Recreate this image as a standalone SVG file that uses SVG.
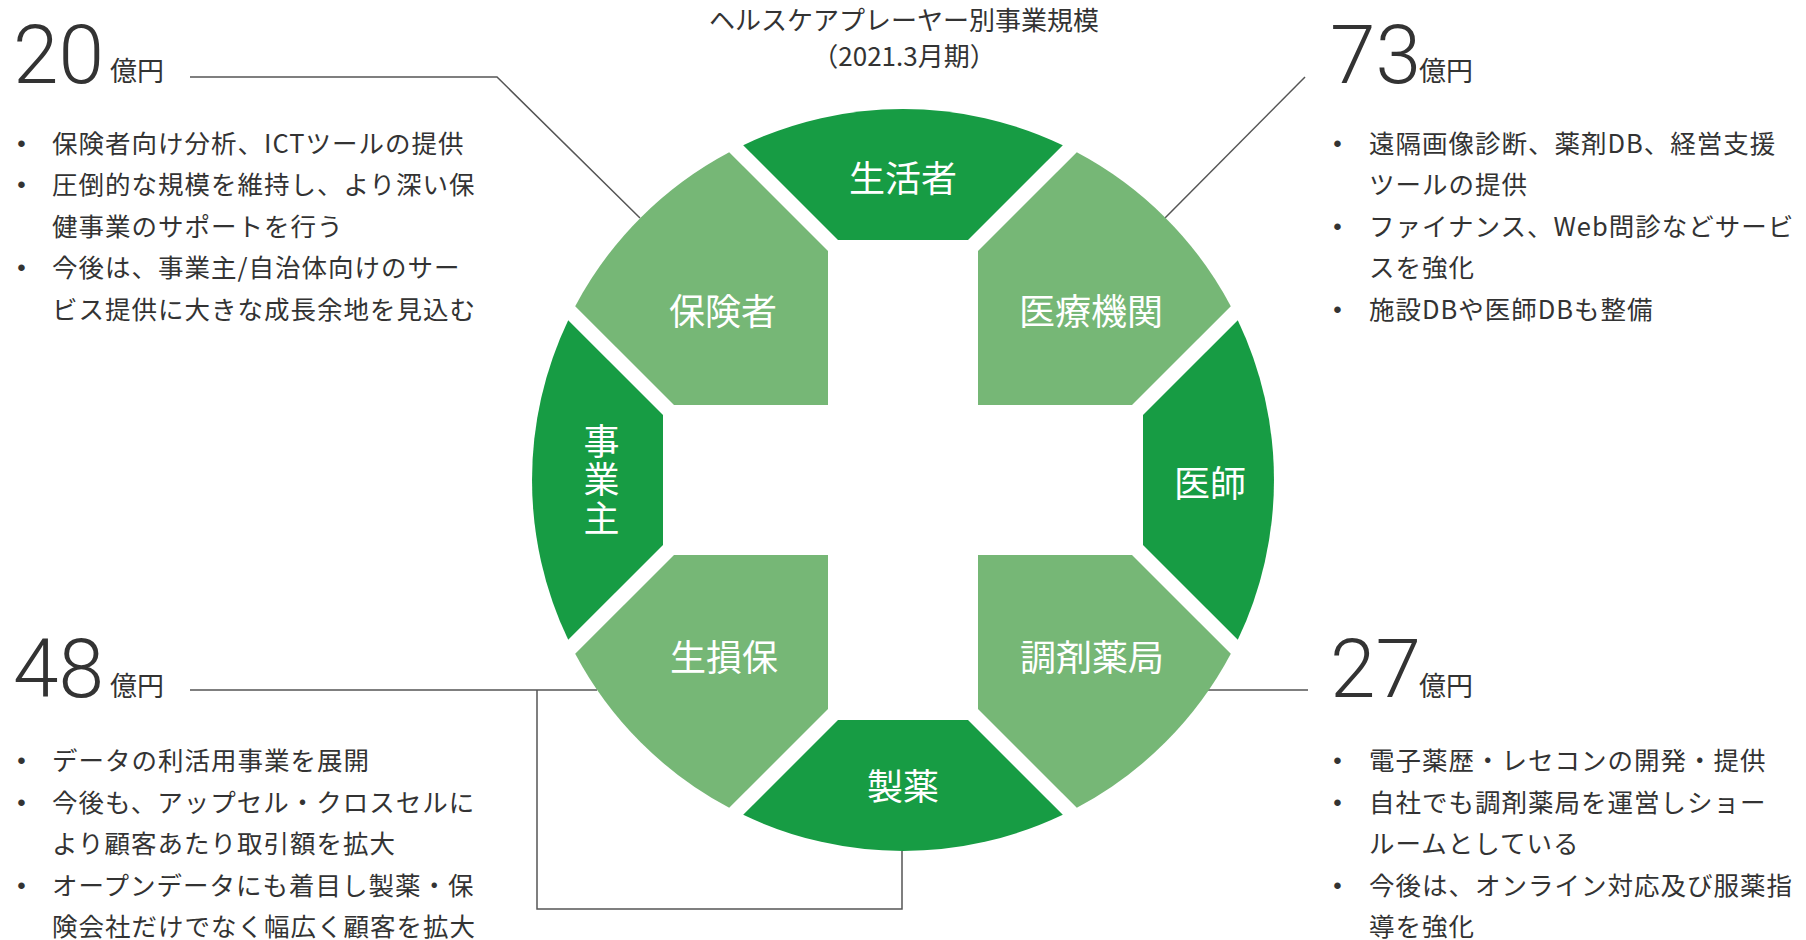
<svg xmlns="http://www.w3.org/2000/svg" width="1806" height="940" viewBox="0 0 1806 940">
<style>
.dark{fill:#179C44}
.light{fill:#76B776}
.lbl{font-family:"Noto Sans CJK JP","Noto Sans",sans-serif;font-size:36px;fill:#ffffff;text-anchor:middle}
.vert{writing-mode:vertical-rl;letter-spacing:2.5px}
.title{font-family:"Noto Sans CJK JP","Noto Sans",sans-serif;font-size:26px;fill:#333333;text-anchor:middle}
.body{font-family:"Noto Sans CJK JP","Noto Sans",sans-serif;font-size:25.5px;letter-spacing:1px;fill:#333333}
.bul{font-family:"Liberation Sans",sans-serif;font-size:24px;fill:#333333;text-anchor:middle}
.num{font-family:Roboto,"Noto Sans",sans-serif;font-weight:300;font-size:82px;fill:#333333}
.unit{font-family:"Noto Sans CJK JP","Noto Sans",sans-serif;font-size:27px;fill:#333333}
.conn{fill:none;stroke:#555555;stroke-width:1.5}
</style>
<rect width="1806" height="940" fill="#ffffff"/>

<g id="title">
<text class="title" x="904" y="30">ヘルスケアプレーヤー別事業規模</text>
<text class="title" x="904" y="66">（2021.3月期）</text>
</g>

<g id="connectors">
<polyline class="conn" points="190,77 497,77 640,218"/>
<polyline class="conn" points="1305,77 1165,218"/>
<polyline class="conn" points="1207,690 1308,690"/>
<polyline class="conn" points="190,690 597,690"/>
<polyline class="conn" points="537,690 537,909 902,909 902,851"/>
</g>

<g id="node-seikatsusha">
<path class="dark" d="M838,240 L743.2,145.2 A371,371 0 0 1 1062.8,145.2 L968,240 Z"/>
<text class="lbl" x="903" y="192">生活者</text>
</g>
<g id="node-seiyaku">
<path class="dark" d="M838,720 L743.2,814.8 A371,371 0 0 0 1062.8,814.8 L968,720 Z"/>
<text class="lbl" x="903" y="800">製薬</text>
</g>
<g id="node-jigyonushi">
<path class="dark" d="M663,415 L568.2,320.2 A371,371 0 0 0 568.2,639.8 L663,545 Z"/>
<text class="lbl vert" x="601.5" y="481">事業主</text>
</g>
<g id="node-ishi">
<path class="dark" d="M1143,415 L1237.8,320.2 A371,371 0 0 1 1237.8,639.8 L1143,545 Z"/>
<text class="lbl" x="1210" y="497">医師</text>
</g>
<g id="node-hokensha">
<path class="light" d="M828,251 L828,405 L674,405 L575.2,306.2 A371,371 0 0 1 729.2,152.2 Z"/>
<text class="lbl" x="723" y="325">保険者</text>
</g>
<g id="node-iryokikan">
<path class="light" d="M978,251 L978,405 L1132,405 L1230.8,306.2 A371,371 0 0 0 1076.8,152.2 Z"/>
<text class="lbl" x="1091" y="325">医療機関</text>
</g>
<g id="node-sonpo">
<path class="light" d="M828,709 L828,555 L674,555 L575.2,653.8 A371,371 0 0 0 729.2,807.8 Z"/>
<text class="lbl" x="724" y="671">生損保</text>
</g>
<g id="node-chozai">
<path class="light" d="M978,709 L978,555 L1132,555 L1230.8,653.8 A371,371 0 0 1 1076.8,807.8 Z"/>
<text class="lbl" x="1092" y="671">調剤薬局</text>
</g>

<g id="block-hokensha">
<text class="num" x="13" y="83">20</text>
<text class="unit" x="110" y="81">億円</text>
<text class="bul" x="21.5" y="152">•</text>
<text class="body" x="52" y="153">保険者向け分析、ICTツールの提供</text>
<text class="bul" x="21.5" y="193">•</text>
<text class="body" x="52" y="194">圧倒的な規模を維持し、より深い保</text>
<text class="body" x="52" y="236">健事業のサポートを行う</text>
<text class="bul" x="21.5" y="276">•</text>
<text class="body" x="52" y="277">今後は、事業主/自治体向けのサー</text>
<text class="body" x="52" y="319">ビス提供に大きな成長余地を見込む</text>
</g>

<g id="block-iryokikan">
<text class="num" x="1330" y="83">73</text>
<text class="unit" x="1419" y="81">億円</text>
<text class="bul" x="1337.5" y="152">•</text>
<text class="body" x="1369" y="153">遠隔画像診断、薬剤DB、経営支援</text>
<text class="body" x="1369" y="194">ツールの提供</text>
<text class="bul" x="1337.5" y="235">•</text>
<text class="body" x="1369" y="236">ファイナンス、Web問診などサービ</text>
<text class="body" x="1369" y="277">スを強化</text>
<text class="bul" x="1337.5" y="318">•</text>
<text class="body" x="1369" y="319">施設DBや医師DBも整備</text>
</g>

<g id="block-sonpo">
<text class="num" x="13" y="697">48</text>
<text class="unit" x="110" y="696">億円</text>
<text class="bul" x="21.5" y="769">•</text>
<text class="body" x="52" y="770">データの利活用事業を展開</text>
<text class="bul" x="21.5" y="811">•</text>
<text class="body" x="52" y="812">今後も、アップセル・クロスセルに</text>
<text class="body" x="52" y="853">より顧客あたり取引額を拡大</text>
<text class="bul" x="21.5" y="894">•</text>
<text class="body" x="52" y="895">オープンデータにも着目し製薬・保</text>
<text class="body" x="52" y="936">険会社だけでなく幅広く顧客を拡大</text>
</g>

<g id="block-chozai">
<text class="num" x="1330" y="697">27</text>
<text class="unit" x="1419" y="696">億円</text>
<text class="bul" x="1337.5" y="769">•</text>
<text class="body" x="1369" y="770">電子薬歴・レセコンの開発・提供</text>
<text class="bul" x="1337.5" y="811">•</text>
<text class="body" x="1369" y="812">自社でも調剤薬局を運営しショー</text>
<text class="body" x="1369" y="853">ルームとしている</text>
<text class="bul" x="1337.5" y="894">•</text>
<text class="body" x="1369" y="895">今後は、オンライン対応及び服薬指</text>
<text class="body" x="1369" y="936">導を強化</text>
</g>
</svg>
